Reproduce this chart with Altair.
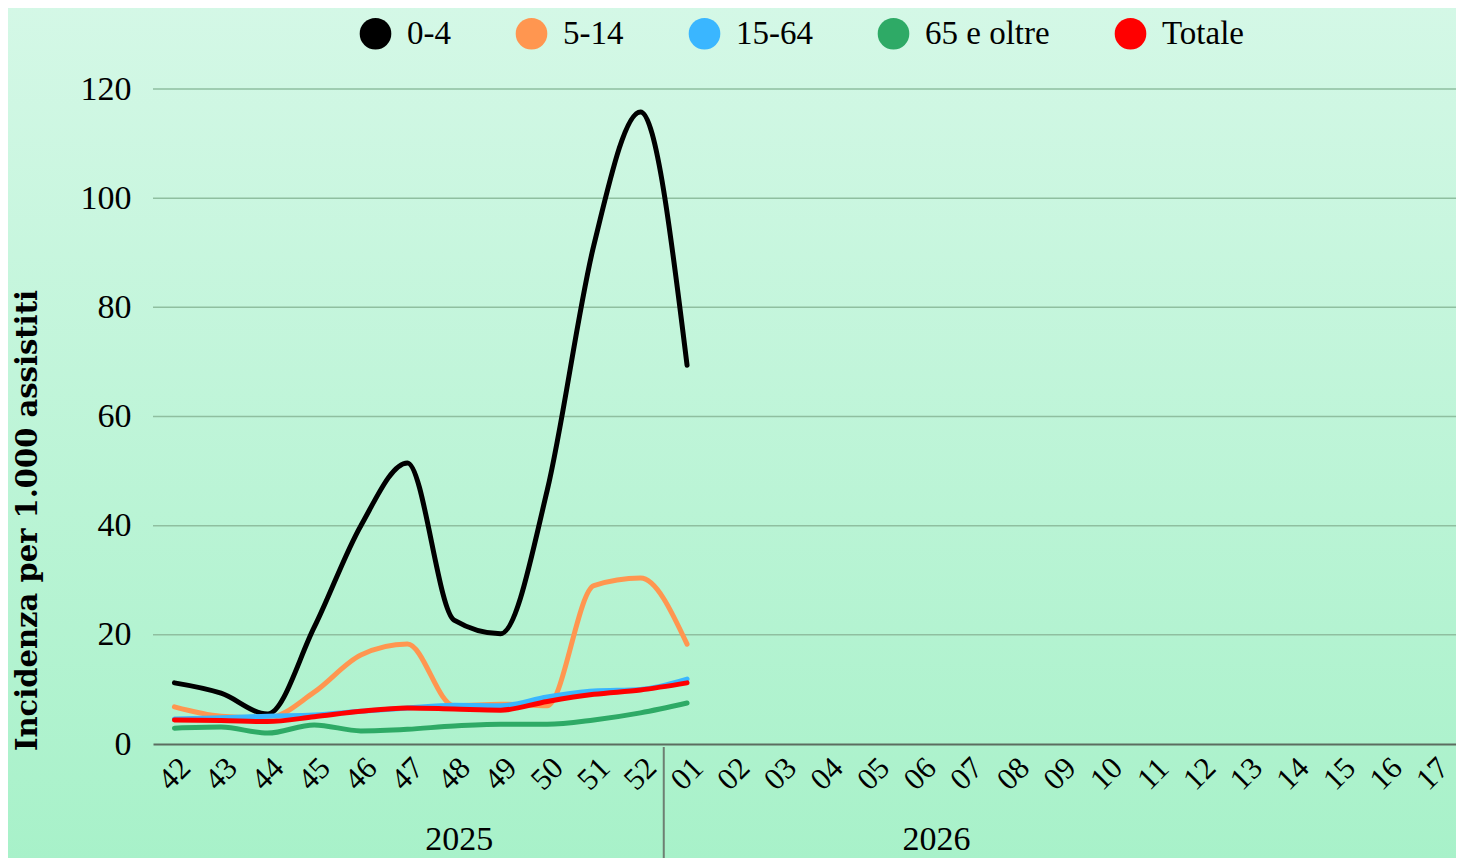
import altair as alt
import pandas as pd

weeks = ["42", "43", "44", "45", "46", "47", "48", "49", "50", "51", "52",
         "01", "02", "03", "04", "05", "06", "07", "08", "09", "10",
         "11", "12", "13", "14", "15", "16", "17"]
data_weeks = weeks[:12]
series_names = ["0-4", "5-14", "15-64", "65 e oltre", "Totale"]
series_colors = ["#000000", "#ff9650", "#3ab6ff", "#2eaa66", "#ff0000"]

v_0_4 = [11.2, 9.3, 5.5, 21.4, 40.0, 51.5, 22.7, 20.2, 46.5, 91.4, 115.8, 69.4]
v_5_14 = [6.8, 5.1, 4.8, 9.5, 16.3, 18.3, 7.0, 7.3, 7.0, 29.0, 30.4, 18.3]
v_15_64 = [4.6, 4.8, 5.1, 5.3, 6.0, 6.6, 7.1, 7.0, 8.6, 9.7, 10.0, 11.9]
v_65 = [2.9, 3.1, 2.0, 3.5, 2.4, 2.7, 3.3, 3.6, 3.6, 4.4, 5.7, 7.5]
v_tot = [4.4, 4.3, 4.1, 5.0, 6.0, 6.6, 6.4, 6.2, 7.8, 9.1, 9.9, 11.2]

y_ticks = [0, 20, 40, 60, 80, 100, 120]
years = ["2025", "2026"]

FONT = "Liberation Serif"

rows = []
for name, vals in zip(series_names, [v_0_4, v_5_14, v_15_64, v_65, v_tot]):
    for i, (w, v) in enumerate(zip(data_weeks, vals)):
        rows.append({"serie": name, "idx": i, "settimana": w, "valore": v})
df = pd.DataFrame(rows)

W, H = 1303, 655
x_dom = [-0.46, 27.5]
xscale = alt.Scale(domain=x_dom, nice=False, zero=False)
yscale = alt.Scale(domain=[0, 120], nice=False)
cscale = alt.Scale(domain=series_names, range=series_colors)
label_expr = "[" + ",".join("'%s'" % w for w in weeks) + "][datum.value]"

bg = alt.Chart(pd.DataFrame({"a": [0]})).mark_rect(
    color=alt.LinearGradient(
        gradient="linear", x1=0, y1=0, x2=0, y2=1,
        stops=[alt.GradientStop(color="#d5f8e7", offset=0),
               alt.GradientStop(color="#a6f1c8", offset=1)]
    )
).encode(
    x=alt.value(-200), x2=alt.value(W + 50),
    y=alt.value(-100), y2=alt.value(H + 150)
)

grid = alt.Chart(pd.DataFrame({"t": y_ticks[1:]})).mark_rule(
    color="#8fbfa0", strokeWidth=1.5
).encode(
    y=alt.Y("t:Q", scale=yscale),
    x=alt.value(0), x2=alt.value(W)
)

x_enc = alt.X("idx:Q", scale=xscale,
              axis=alt.Axis(values=list(range(len(weeks))), labelExpr=label_expr,
                            title=None, grid=False, ticks=False, domain=True,
                            domainColor="#5b6d60", domainWidth=2, zindex=1,
                            labelAngle=315, labelAlign="center", labelBaseline="middle",
                            labelPadding=30, labelFontSize=31, labelFont=FONT,
                            labelColor="#000000", labelOverlap=False, labelFlush=False))
y_enc = alt.Y("valore:Q", scale=yscale,
              axis=alt.Axis(values=y_ticks, grid=False, domain=False, ticks=False,
                            zindex=1,
                            labelFontSize=34, labelFont=FONT, labelColor="#000000",
                            labelPadding=22,
                            title="Incidenza per 1.000 assistiti",
                            titleFont="DejaVu Serif", titleFontSize=29, titleFontWeight="bold",
                            titleColor="#000000", titleX=-126, titleY=431,
                            titleAngle=270, titleAlign="center", titleBaseline="middle"))

legend_pts = alt.Chart(df).mark_circle(size=0, opacity=0).encode(
    x=x_enc, y=y_enc,
    color=alt.Color("serie:N", scale=cscale, sort=series_names,
                    legend=alt.Legend(title=None, orient="none", direction="horizontal",
                                      legendX=206, legendY=-72,
                                      symbolType="circle", symbolSize=1000,
                                      symbolStrokeWidth=0, symbolOpacity=1,
                                      labelFont=FONT, labelFontSize=33,
                                      labelColor="#000000", labelOffset=15,
                                      columnPadding=64, zindex=1))
)

lines = alt.Chart(df).mark_line(
    interpolate="monotone", strokeWidth=5, strokeCap="round", strokeJoin="round"
).encode(
    x=x_enc, y=y_enc,
    color=alt.Color("serie:N", scale=cscale, sort=series_names, legend=None),
    order=alt.Order("serie_ord:Q")
).transform_calculate(
    serie_ord="indexof(" + str(series_names) + ", datum.serie)"
)

sep = alt.Chart(pd.DataFrame({"pos": [10.5]})).mark_rule(
    color="#6d7f72", strokeWidth=2
).encode(
    x=alt.X("pos:Q", scale=xscale),
    y=alt.value(H + 3), y2=alt.value(H + 130)
)

year_df = pd.DataFrame({"anno": years, "pos": [6.11, 16.35]})
year_text = alt.Chart(year_df).mark_text(
    font=FONT, fontSize=34, color="#000000", baseline="middle", align="center"
).encode(
    x=alt.X("pos:Q", scale=xscale),
    y=alt.value(H + 96),
    text="anno:N"
)

chart = alt.layer(bg, grid, legend_pts, lines, sep, year_text).properties(
    width=W, height=H,
    autosize=alt.AutoSizeParams(type="none"),
    padding={"left": 145, "top": 81, "right": 0, "bottom": 114},
    background="#bff4d6"
).configure_view(stroke=None)

chart.save("out.html", embed_options={"renderer": "svg", "actions": False})
